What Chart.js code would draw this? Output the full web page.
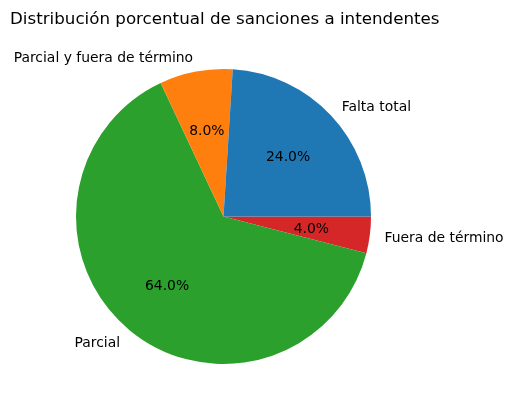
<!DOCTYPE html>
<html>
<head>
<meta charset="utf-8">
<script src="https://cdn.jsdelivr.net/npm/chart.js@4"></script>
<style>
  html, body { margin: 0; padding: 0; background: #fff; }
  #wrap { width: 514px; height: 412px; position: relative; }
</style>
</head>
<body>
<div id="wrap"><canvas id="pieChart"></canvas></div>
<script>
// datos (orden de matplotlib, antihorario desde el este)
const categorias = ['Falta total', 'Parcial y fuera de término', 'Parcial', 'Fuera de término'];
const valores = [24, 8, 64, 4];
const colores = ['#1f77b4', '#ff7f0e', '#2ca02c', '#d62728'];
const titulo = 'Distribución porcentual de sanciones a intendentes';

// Chart.js dibuja en sentido horario, asi que se invierte el orden
const etiquetasCJ = categorias.slice().reverse();
const valoresCJ = valores.slice().reverse();
const coloresCJ = colores.slice().reverse();

const FONT = '"DejaVu Sans", sans-serif';

const textosPie = {
	id: 'textosPie',
	afterDraw(chart) {
		const ctx = chart.ctx;
		const meta = chart.getDatasetMeta(0);
		const total = valoresCJ.reduce((a, b) => a + b, 0);
		ctx.save();
		ctx.fillStyle = '#000';

		// titulo
		ctx.font = '16.7px ' + FONT;
		ctx.textAlign = 'left';
		ctx.textBaseline = 'alphabetic';
		ctx.fillText(titulo, 10, 24);

		ctx.font = '13.9px ' + FONT;
		meta.data.forEach((arc, i) => {
			const p = arc.getProps(['x', 'y', 'startAngle', 'endAngle', 'outerRadius'], true);
			const mid = (p.startAngle + p.endAngle) / 2;
			const r = p.outerRadius;
			const cx = Math.cos(mid), cy = Math.sin(mid);

			// etiqueta exterior
			const lx = p.x + 1.1 * r * cx;
			const ly = p.y + 1.1 * r * cy + 1.5;
			ctx.textAlign = cx > 0 ? 'left' : 'right';
			ctx.textBaseline = 'middle';
			ctx.fillText(etiquetasCJ[i], lx, ly);

			// porcentaje
			const pct = (valoresCJ[i] / total * 100).toFixed(1) + '%';
			ctx.textAlign = 'center';
			ctx.fillText(pct, p.x + 0.6 * r * cx, p.y + 0.6 * r * cy + 1.5);
		});
		ctx.restore();
	}
};

new Chart(document.getElementById('pieChart').getContext('2d'), {
	type: 'pie',
	data: {
		labels: etiquetasCJ,
		datasets: [{
			data: valoresCJ,
			backgroundColor: coloresCJ,
			borderWidth: 0
		}]
	},
	options: {
		responsive: true,
		maintainAspectRatio: false,
		animation: false,
		rotation: 90,
		layout: {
			padding: { left: 76, right: 143, top: 69, bottom: 48 }
		},
		plugins: {
			legend: { display: false },
			tooltip: { enabled: false },
			title: { display: false }
		}
	},
	plugins: [textosPie]
});
</script>
</body>
</html>
